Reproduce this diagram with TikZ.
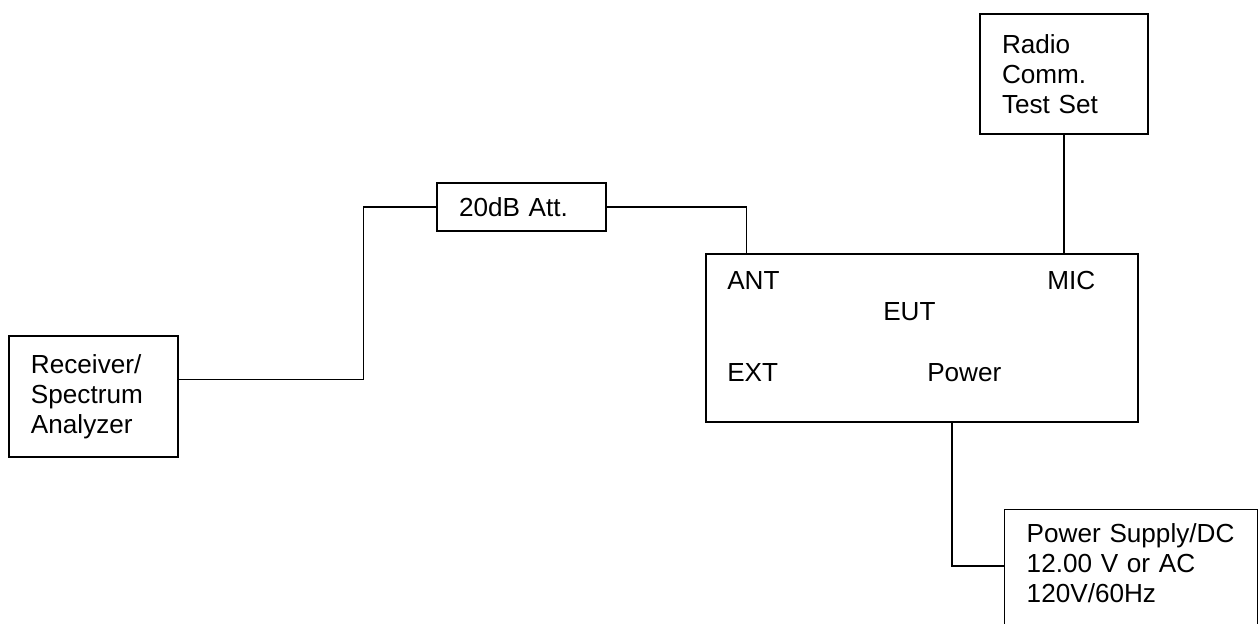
\documentclass[tikz,border=0pt]{standalone}
\usepackage{fontspec}
\setmainfont{Liberation Sans}
\usepackage{tikz}
\usetikzlibrary{positioning,calc}

\begin{document}
\begin{tikzpicture}[
  x=0.75pt, y=-0.75pt,
  font=\fontsize{19.6}{22.4}\selectfont,
  box/.style={draw=black, line width=1.1pt, align=left, inner xsep=16.5pt},
  lbl/.style={inner sep=0pt, anchor=west},
  wire/.style={black, line width=1.1pt}]

\useasboundingbox (0,0) rectangle (1258,624);

\node[box, text width=93.75pt, minimum height=90.75pt] (rx) at (93.5,396.5) {Receiver/\\Spectrum\\Analyzer};
\node[box, text width=93.75pt, minimum height=36pt] (att) at (521.5,207) {20dB Att.};
\node[box, text width=93pt, minimum height=90pt] (radio) at (1064,74) {Radio\\Comm.\\Test Set};
\node[box, minimum width=324pt, minimum height=126pt] (eut) at (922,338) {};
\node[box, anchor=north west, text width=156.75pt, inner ysep=10.5pt, text depth=90pt] (ps) at (1004,509)
  {Power Supply/DC\\12.00 V or AC\\120V/60Hz};

% labels inside the EUT
\node[lbl] (ant) at (727,281) {ANT};
\node[lbl] (mic) at (1047,281) {MIC};
\node[lbl] (euttxt) at (883,312) {EUT};
\node[lbl] (ext) at (727,373) {EXT};
\node[lbl] (pwr) at (927,373) {Power};

\draw[wire] ($(rx.north east)+(0,44)$) -| ($(att.west)+(-73,0)$) -- (att.west);
\draw[wire] (att.east) -| ($(eut.north west)+(41,0)$);
\draw[wire] (radio.south) -- (radio.south |- eut.north);
\draw[wire] ($(eut.south)+(30,0)$) |- ($(ps.north west)+(0,57)$);
\end{tikzpicture}
\end{document}
